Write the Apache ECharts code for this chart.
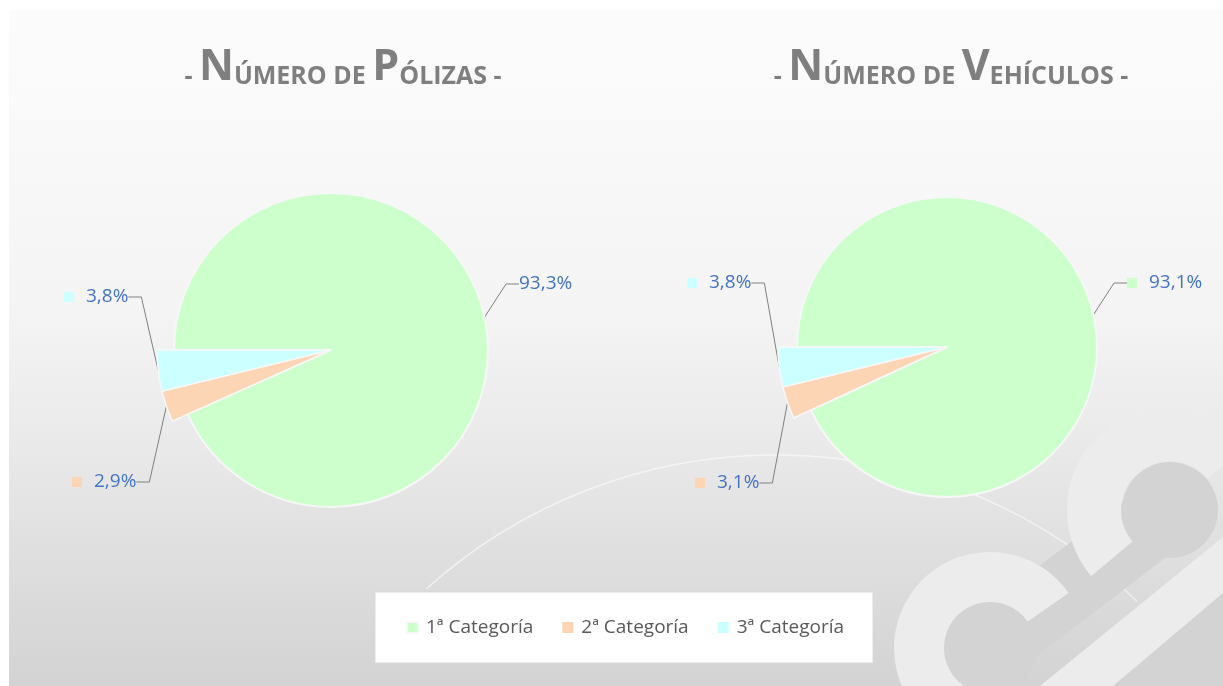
<!DOCTYPE html>
<html><head><meta charset="utf-8">
<script src="https://cdn.jsdelivr.net/npm/echarts@6/dist/echarts.min.js"></script>
<style>html,body{margin:0;padding:0;background:#fff}#c{width:1223px;height:686px}</style>
</head><body><div id="c"></div><script>
// ---- data ----
const categories = ['1ª Categoría', '2ª Categoría', '3ª Categoría'];
const polizas = [93.3, 2.9, 3.8];
const vehiculos = [93.1, 3.1, 3.8];
const chartTitles = ['Número de Pólizas', 'Número de Vehículos'];
const colors = ['#CCFFCC', '#FCD5B4', '#CCFFFF'];

const FONT = 'Open Sans';
const chart = echarts.init(document.getElementById('c'));

function fmt(v) { return v.toFixed(1).replace('.', ',') + '%'; }

const labelRich = {
  sq0: { width: 10, height: 10, backgroundColor: colors[0] },
  sq1: { width: 10, height: 10, backgroundColor: colors[1] },
  sq2: { width: 10, height: 10, backgroundColor: colors[2] },
  v: { fontSize: 19, color: '#4472C4', fontFamily: FONT, padding: [0, 0, 0, 12] },
  v0: { fontSize: 19, color: '#4472C4', fontFamily: FONT }
};

function makePie(values, center, rInner, rOuter, greenSquare, pos) {
  const common = {
    type: 'pie', center: center, startAngle: 180, clockwise: true,
    avoidLabelOverlap: false, silent: true, animation: false,
    emphasis: { disabled: true },
    label: {
      show: true, rich: labelRich,
      formatter: function (p) {
        if (p.dataIndex === 0 && !greenSquare) return '{v0|' + fmt(p.value) + '}';
        return '{sq' + p.dataIndex + '|}{v|' + fmt(p.value) + '}';
      }
    },
    labelLine: { show: true, length: 10, length2: 13, lineStyle: { color: '#808080', width: 1 } },
    labelLayout: function (p) {
      const q = pos[p.dataIndex];
      return { x: q[0], y: q[1], align: 'left', verticalAlign: 'middle' };
    }
  };
  const inner = Object.assign({}, common, {
    radius: rInner,
    data: values.map((v, i) => ({
      name: categories[i], value: v,
      itemStyle: i === 0 ? { color: colors[i], borderColor: '#f7f7f7', borderWidth: 2 } : { color: 'rgba(0,0,0,0)', borderWidth: 0 },
      label: { show: i === 0 }, labelLine: { show: i === 0 }
    }))
  });
  const outer = Object.assign({}, common, {
    radius: rOuter,
    data: values.map((v, i) => ({
      name: categories[i], value: v,
      itemStyle: i !== 0 ? { color: colors[i], borderColor: '#f7f7f7', borderWidth: 1.5 } : { color: 'rgba(0,0,0,0)', borderWidth: 0 },
      label: { show: i !== 0 }, labelLine: { show: i !== 0 }
    }))
  });
  return [inner, outer];
}

function smallCapsTokens(str) {
  let out = '{s|- }';
  let buf = '', mode = null;
  const flush = () => { if (buf) out += '{' + mode + '|' + buf + '}'; buf = ''; };
  for (const ch of str) {
    const isUp = ch !== ch.toLowerCase() && ch === ch.toUpperCase();
    const m = isUp ? 'b' : 's';
    if (m !== mode) { flush(); mode = m; }
    buf += ch.toUpperCase();
  }
  flush();
  return out + '{s| -}';
}
const TITLE_C = '#7f7f7f';
const titleRich = {
  b: { fontSize: 43, fontWeight: 'bold', fill: TITLE_C, color: TITLE_C, fontFamily: FONT, lineHeight: 50, verticalAlign: 'bottom' },
  s: { fontSize: 25, fontWeight: 'bold', fill: TITLE_C, color: TITLE_C, fontFamily: FONT, lineHeight: 38, verticalAlign: 'bottom' }
};

const bg = new echarts.graphic.LinearGradient(0, 0, 0, 1, [
  { offset: 0, color: '#fcfcfc' }, { offset: 0.45, color: '#f4f4f4' },
  { offset: 0.65, color: '#e9e9e9' }, { offset: 0.85, color: '#dcdcdc' }, { offset: 1, color: '#d3d3d3' }
]);
const LIGHT = '#ececec', DARK = '#d3d3d3';

const option = {
  animation: false,
  graphic: [
    { type: 'rect', z: -100, silent: true, shape: { x: 9, y: 10, width: 1214, height: 676 }, style: { fill: bg } },
    { type: 'arc', z: -90, silent: true, shape: { cx: 775, cy: 976, r: 521, startAngle: -132 * Math.PI / 180, endAngle: -46 * Math.PI / 180, clockwise: true }, style: { stroke: 'rgba(255,255,255,0.55)', lineWidth: 1.5, fill: null } },
    { type: 'line', z: -90, silent: true, shape: { x1: 1170, y1: 510, x2: 990, y2: 648 }, style: { stroke: DARK, lineWidth: 70 } },
    { type: 'circle', z: -90, silent: true, shape: { cx: 1170, cy: 510, r: 48 }, style: { fill: DARK } },
    { type: 'circle', z: -90, silent: true, shape: { cx: 990, cy: 648, r: 46 }, style: { fill: DARK } },
    { type: 'polygon', z: -90, silent: true, shape: { points: [[1223, 593], [1223, 686], [1113, 686]] }, style: { fill: DARK } },
    { type: 'arc', z: -80, silent: true, shape: { cx: 1170, cy: 510, r: 76, startAngle: -40 * Math.PI / 180, endAngle: 140 * Math.PI / 180, clockwise: false }, style: { stroke: LIGHT, lineWidth: 54, fill: null } },
    { type: 'arc', z: -80, silent: true, shape: { cx: 990, cy: 648, r: 71, startAngle: -35 * Math.PI / 180, endAngle: 90 * Math.PI / 180, clockwise: false }, style: { stroke: LIGHT, lineWidth: 50, fill: null } },
    { type: 'polygon', z: -80, silent: true, shape: { points: [[1223, 537], [1223, 593], [1113, 686], [1040, 686]] }, style: { fill: LIGHT } },
    { type: 'text', z: 10, silent: true, x: 343, y: 39, style: { text: smallCapsTokens(chartTitles[0]), rich: titleRich, fill: TITLE_C, align: 'center', verticalAlign: 'top' } },
    { type: 'text', z: 10, silent: true, x: 951, y: 39, style: { text: smallCapsTokens(chartTitles[1]), rich: titleRich, fill: TITLE_C, align: 'center', verticalAlign: 'top' } }
  ],
  legend: {
    left: 375, top: 592, orient: 'horizontal',
    padding: [26, 29, 26, 31], itemGap: 29, itemWidth: 11, itemHeight: 11, icon: 'rect',
    backgroundColor: '#ffffff', borderColor: '#d9d9d9', borderWidth: 1, borderRadius: 0,
    selectedMode: false,
    textStyle: { fontSize: 19, color: '#595959', fontFamily: FONT, padding: [0, 0, 0, 3] },
    data: categories.map((c, i) => ({ name: c, itemStyle: { color: colors[i] } }))
  },
  series: [
    ...makePie(polizas, [331, 350], 157, 174, false, [[519, 284], [72, 482], [64, 297]]),
    ...makePie(vehiculos, [947, 347], 150, 169, true, [[1127, 283], [695, 483], [687, 283]])
  ]
};
chart.setOption(option);
</script></body></html>
